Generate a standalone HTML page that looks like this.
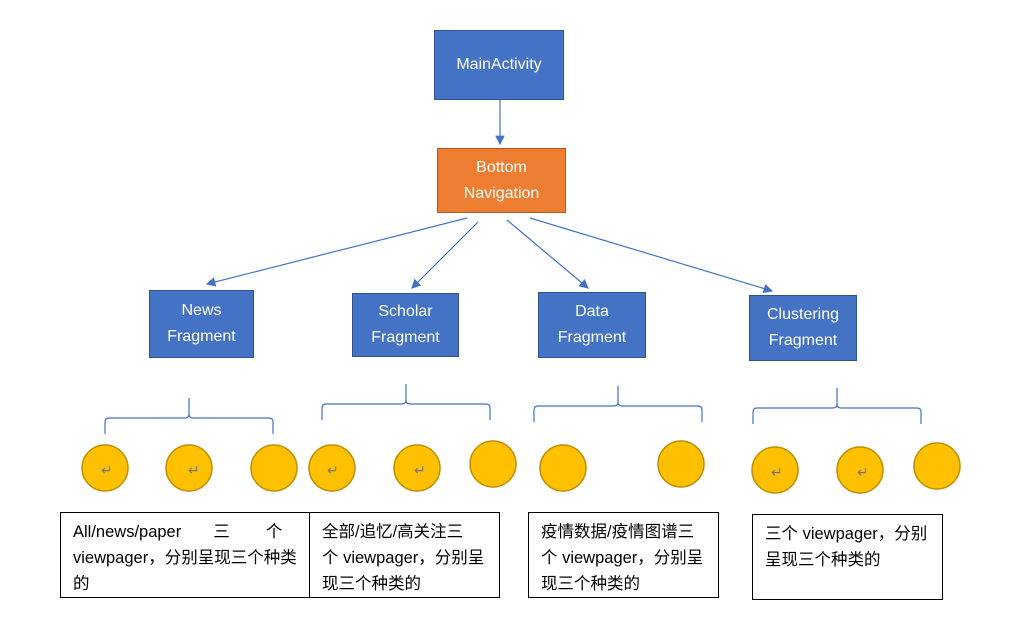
<!DOCTYPE html><html><head><meta charset="utf-8"><style>
body{margin:0;width:1026px;height:636px;background:#fff;position:relative;overflow:hidden;font-family:"Liberation Sans","Noto Sans CJK SC",sans-serif}
.b{position:absolute;background:#4472c4;border:1.5px solid #2f528f;color:#fff;font-size:16px;display:flex;align-items:center;justify-content:center;text-align:center;line-height:26px;box-sizing:border-box}
.t{position:absolute;border:1px solid #000;box-sizing:border-box;font-size:16.5px;line-height:26px;padding:6px 12px;color:#000;white-space:nowrap}
</style></head><body>
<svg width="1026" height="636" style="position:absolute;left:0;top:0">
<defs><marker id="a" markerWidth="8" markerHeight="8" refX="7" refY="4" orient="auto"><path d="M0,0 L8,4 L0,8 z" fill="#4472c4"/></marker></defs>
<g stroke="#4472c4" stroke-width="1.2" fill="none">
<line x1="500" y1="100" x2="500" y2="144" marker-end="url(#a)"/>
<line x1="467" y1="218" x2="207" y2="284" marker-end="url(#a)"/>
<line x1="478" y1="222" x2="412" y2="288" marker-end="url(#a)"/>
<line x1="507" y1="220" x2="588" y2="288" marker-end="url(#a)"/>
<line x1="530" y1="218" x2="772" y2="291" marker-end="url(#a)"/>
<path d="M105,434 v-12 q0,-4 4,-4 h76 q4,0 4,-4 v-16 v16 q0,4 4,4 h76 q4,0 4,4 v12"/>
<path d="M322,420 v-12 q0,-4 4,-4 h76 q4,0 4,-4 v-16 v16 q0,4 4,4 h76 q4,0 4,4 v12"/>
<path d="M534,422 v-12 q0,-4 4,-4 h76 q4,0 4,-4 v-16 v16 q0,4 4,4 h76 q4,0 4,4 v12"/>
<path d="M753,424 v-12 q0,-4 4,-4 h76 q4,0 4,-4 v-16 v16 q0,4 4,4 h76 q4,0 4,4 v12"/>
</g>
<g fill="#ffc000" stroke="#bf9000" stroke-width="1.5">
<circle cx="105" cy="468" r="23"/><circle cx="189" cy="468" r="23"/><circle cx="274" cy="468" r="23"/>
<circle cx="332" cy="468" r="23"/><circle cx="417" cy="468" r="23"/><circle cx="493" cy="464" r="23"/>
<circle cx="563" cy="468" r="23"/><circle cx="681" cy="464" r="23"/>
<circle cx="775" cy="470" r="23"/><circle cx="860" cy="470" r="23"/><circle cx="937" cy="466" r="23"/>
</g>
<g fill="#777" font-size="14" font-family="DejaVu Sans,sans-serif">
<text x="101" y="475">↵</text><text x="188" y="475">↵</text><text x="327" y="475">↵</text><text x="414" y="475">↵</text><text x="771" y="477">↵</text><text x="857" y="477">↵</text>
</g>
</svg>
<div class="b" style="left:434px;top:30px;width:130px;height:70px">MainActivity</div>
<div class="b" style="left:437px;top:148px;width:129px;height:65px;background:#ed7d31;border-color:#ae5a21">Bottom<br>Navigation</div>
<div class="b" style="left:149px;top:290px;width:105px;height:68px">News<br>Fragment</div>
<div class="b" style="left:352px;top:293px;width:107px;height:64px">Scholar<br>Fragment</div>
<div class="b" style="left:538px;top:292px;width:108px;height:66px">Data<br>Fragment</div>
<div class="b" style="left:749px;top:295px;width:108px;height:66px">Clustering<br>Fragment</div>
<div class="t" style="left:60px;top:512px;width:250px;height:86px">All/news/paper<span style="display:inline-block;width:32px"></span>三<span style="display:inline-block;width:36px"></span>个<br>viewpager，分别呈现三个种类<br>的</div>
<div class="t" style="left:309px;top:512px;width:191px;height:86px">全部/追忆/高关注三<br>个 viewpager，分别呈<br>现三个种类的</div>
<div class="t" style="left:528px;top:512px;width:191px;height:86px">疫情数据/疫情图谱三<br>个 viewpager，分别呈<br>现三个种类的</div>
<div class="t" style="left:752px;top:514px;width:191px;height:86px">三个 viewpager，分别<br>呈现三个种类的</div>
</body></html>
